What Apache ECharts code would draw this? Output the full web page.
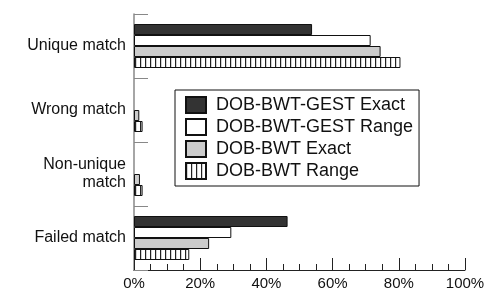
<!DOCTYPE html>
<html>
<head>
<meta charset="utf-8">
<script src="https://cdn.jsdelivr.net/npm/echarts@6/dist/echarts.min.js"></script>
<style>
  html, body { margin: 0; padding: 0; background: #fff; }
  #chart { width: 488px; height: 292px; }
</style>
</head>
<body>
<div id="chart"></div>
<script>
var categories = ['Unique match', 'Wrong match', 'Non-unique\nmatch', 'Failed match'];
var seriesNames = ['DOB-BWT-GEST Exact', 'DOB-BWT-GEST Range', 'DOB-BWT Exact', 'DOB-BWT Range'];
var gestExact = [53.8, 0, 0, 46.4];
var gestRange = [71.5, 0, 0, 29.4];
var bwtExact = [74.5, 1.6, 1.8, 22.7];
var bwtRange = [80.5, 2.6, 2.6, 16.7];
var xTicks = [0, 20, 40, 60, 80, 100];

// vertical stripe fill
function stripes() {
	var c = document.createElement('canvas');
	c.width = 5;
	c.height = 4;
	var ctx = c.getContext('2d');
	ctx.fillStyle = '#fff';
	ctx.fillRect(0, 0, 5, 4);
	ctx.fillStyle = '#222';
	ctx.fillRect(0, 0, 1.2, 4);
	return { image: c, repeat: 'repeat' };
}

var fills = ['#333333', '#ffffff', '#cccccc', stripes()];
var values = [gestExact, gestRange, bwtExact, bwtRange];

var font = 'Liberation Sans';
var chart = echarts.init(document.getElementById('chart'));

var series = [];
for (var i = 0; i < values.length; i++) {
	series.push({
		name: seriesNames[i],
		type: 'bar',
		// zero bars are not drawn at all
		data: values[i].map(function (v) { return v === 0 ? '-' : v; }),
		barWidth: 11,
		barGap: '0%',
		itemStyle: { color: fills[i], borderColor: '#111', borderWidth: 1 },
		emphasis: { disabled: true },
		animation: false
	});
}

chart.setOption({
	animation: false,
	grid: { left: 134, right: 23, top: 14, bottom: 22 },
	legend: {
		orient: 'vertical',
		left: 175,
		top: 90,
		itemWidth: 20,
		itemHeight: 16,
		itemGap: 4,
		padding: [6, 6, 6, 10],
		borderColor: '#111',
		borderWidth: 1,
		icon: 'rect',
		selectedMode: false,
		textStyle: { fontFamily: font, fontSize: 18, lineHeight: 16, color: '#111', padding: [0, 0, 0, 5] },
		data: seriesNames
	},
	xAxis: {
		type: 'value',
		min: 0,
		max: 100,
		interval: 20,
		axisLine: { show: true, lineStyle: { color: '#222', width: 1 } },
		axisTick: { show: true, inside: true, length: 12, lineStyle: { color: '#222' } },
		minorTick: { show: true, splitNumber: 4, length: 6, lineStyle: { color: '#222' } },
		splitLine: { show: false },
		axisLabel: {
			fontFamily: font, fontSize: 15, color: '#111', margin: 6,
			formatter: function (v) { return xTicks.indexOf(v) > -1 ? v + '%' : ''; }
		}
	},
	yAxis: {
		type: 'category',
		inverse: true,
		data: categories,
		axisLine: { lineStyle: { color: '#888', width: 1.5 } },
		axisTick: { show: true, inside: true, length: 14, lineStyle: { color: '#888' } },
		axisLabel: { fontFamily: font, fontSize: 16, color: '#111', margin: 8, lineHeight: 18 }
	},
	series: series
});
</script>
</body>
</html>
